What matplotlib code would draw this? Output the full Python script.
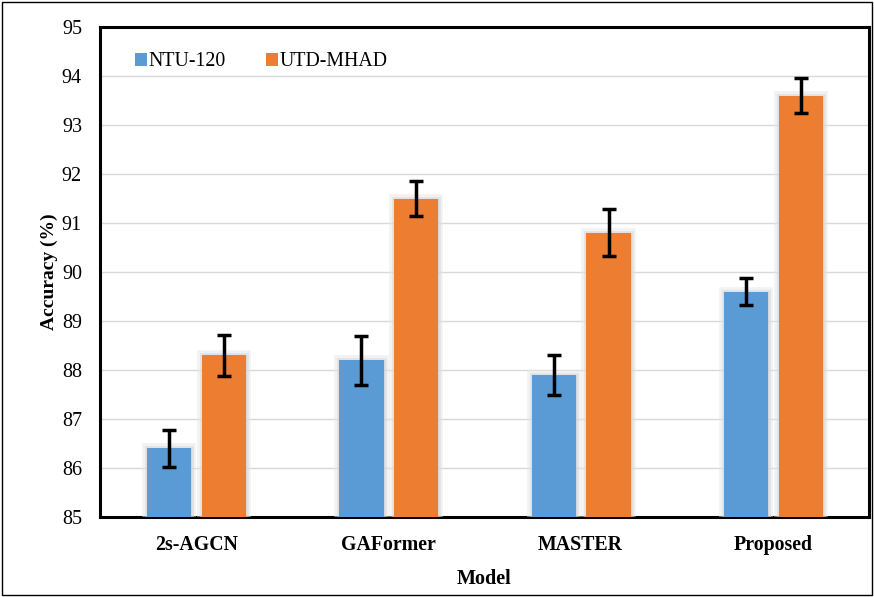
import numpy as np
import matplotlib.pyplot as plt
import matplotlib.patheffects as pe
from matplotlib.patches import Rectangle

models = ["2s-AGCN", "GAFormer", "MASTER", "Proposed"]
ntu120 = [86.4, 88.2, 87.9, 89.6]
ntu120_err = [0.38, 0.5, 0.4, 0.28]
utd_mhad = [88.3, 91.5, 90.8, 93.6]
utd_mhad_err = [0.42, 0.35, 0.48, 0.35]

plt.rcParams['font.family'] = ['Liberation Serif', 'DejaVu Serif']

fig = plt.figure(figsize=(8.74, 5.97), dpi=100)
ax = fig.add_axes([100 / 874, 80 / 597, 769 / 874, 490 / 597])

x = np.arange(len(models))
w = 0.23
b1 = ax.bar(x - 0.14, ntu120, w, color='#5B9BD5', label='NTU-120', zorder=3)
b2 = ax.bar(x + 0.145, utd_mhad, w, color='#ED7D31', label='UTD-MHAD', zorder=3)
ax.errorbar(x - 0.14, ntu120, yerr=ntu120_err, fmt='none', ecolor='black', elinewidth=2.5, capsize=5, capthick=2.5, zorder=4)
ax.errorbar(x + 0.145, utd_mhad, yerr=utd_mhad_err, fmt='none', ecolor='black', elinewidth=2.5, capsize=5, capthick=2.5, zorder=4)

ax.set_xlim(-0.5, 3.5)
ax.set_ylim(85, 95)
ax.set_yticks(np.arange(85, 96, 1))
ax.set_xticks(x)
ax.set_xticklabels(models, fontweight='bold', fontsize=14.3)
ax.tick_params(axis='both', length=0)
ax.tick_params(axis='y', pad=13, labelsize=14.5)
ax.tick_params(axis='x', pad=13)
ax.yaxis.grid(True, color='#d9d9d9', linewidth=1, zorder=0)
ax.set_axisbelow(True)
for s in ax.spines.values():
    s.set_linewidth(2.2)
    s.set_color('black')

ax.set_xlabel("Model", fontweight='bold', fontsize=14.5, labelpad=10)
ax.set_ylabel("Accuracy (%)", fontweight='bold', fontsize=14, labelpad=3)

ax.legend(loc='upper left', bbox_to_anchor=(0.022, 0.985), ncol=2, frameon=False,
          fontsize=14.3, handlelength=0.6, handleheight=0.6, handletextpad=0.1, columnspacing=2.0)

# soft glow round each bar (set after legend so the legend keys stay plain)
for b in list(b1) + list(b2):
    b.set_path_effects([pe.Stroke(linewidth=7, foreground='#e6e6e6', alpha=0.5),
                        pe.Stroke(linewidth=3.5, foreground='#d4d4d4', alpha=0.5),
                        pe.Normal()])

fig.patches.append(Rectangle((0.002, 0.003), 0.996, 0.994, transform=fig.transFigure,
                             fill=False, edgecolor='black', linewidth=1))

plt.savefig("out.png", dpi=100)
